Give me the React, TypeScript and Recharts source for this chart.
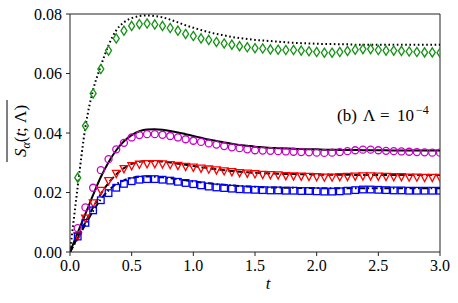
import React from "react";
import { LineChart, Line, XAxis, YAxis, ReferenceLine } from "recharts";

const tValues = [
  0, 0.0625, 0.125, 0.1875, 0.25, 0.3125, 0.375, 0.4375, 0.5, 0.5625, 0.625, 0.6875, 0.75, 0.8125, 0.875, 0.9375,
  1, 1.0625, 1.125, 1.1875, 1.25, 1.3125, 1.375, 1.4375, 1.5, 1.5625, 1.625, 1.6875, 1.75, 1.8125, 1.875, 1.9375,
  2, 2.0625, 2.125, 2.1875, 2.25, 2.3125, 2.375, 2.4375, 2.5, 2.5625, 2.625, 2.6875, 2.75, 2.8125, 2.875, 2.9375, 3,
];

const xTicks = [0, 0.5, 1, 1.5, 2, 2.5, 3];
const yTicks = [0, 0.02, 0.04, 0.06, 0.08];

// black curves
const dottedLine = [
  0, 0.022, 0.042, 0.0545, 0.0625, 0.0695, 0.0745, 0.0772, 0.0786, 0.0793, 0.0795, 0.0793, 0.0789, 0.0781, 0.0772,
  0.0762, 0.0754, 0.0746, 0.0739, 0.0733, 0.0728, 0.0723, 0.0719, 0.0716, 0.0713,
  0.0711, 0.0709, 0.0707, 0.0705, 0.0703, 0.0702, 0.0701, 0.07, 0.0699, 0.0699, 0.0698, 0.0698,
  0.0697, 0.0697, 0.0697, 0.0697, 0.0697, 0.0697, 0.0697, 0.0697, 0.0697, 0.0697, 0.0697, 0.0697,
];
const solidLine = [
  0, 0.0065, 0.0128, 0.0192, 0.0252, 0.0302, 0.0342, 0.0372, 0.0393, 0.0406, 0.0412, 0.0413, 0.0411, 0.0407, 0.0402,
  0.0396, 0.039, 0.0384, 0.0378, 0.0373, 0.0368, 0.0364, 0.036, 0.0357, 0.0354,
  0.0352, 0.035, 0.0349, 0.0348, 0.0347, 0.0346, 0.0345, 0.0345, 0.0344, 0.0344, 0.0343, 0.0343,
  0.0343, 0.0342, 0.0342, 0.0342, 0.0342, 0.0341, 0.0341, 0.0341, 0.0341, 0.0341, 0.0341, 0.0341,
];
const dashedLine = [
  0, 0.005, 0.01, 0.015, 0.0195, 0.0232, 0.0261, 0.0282, 0.0296, 0.0303, 0.0306, 0.0306, 0.0304, 0.0301, 0.0297,
  0.0293, 0.0289, 0.0285, 0.0281, 0.0278, 0.0275, 0.0272, 0.027, 0.0268, 0.0266,
  0.0265, 0.0264, 0.0263, 0.0262, 0.0262, 0.0261, 0.0261, 0.026, 0.026, 0.026, 0.026, 0.026,
  0.0259, 0.0259, 0.0259, 0.0259, 0.0259, 0.0259, 0.0259, 0.0259, 0.0259, 0.0259, 0.0259, 0.0259,
];
const dashDotLine = [
  0, 0.0046, 0.0093, 0.0138, 0.0177, 0.0207, 0.0228, 0.0241, 0.0249, 0.0253, 0.0254, 0.0253, 0.0251, 0.0248, 0.0245,
  0.0241, 0.0237, 0.0234, 0.0231, 0.0228, 0.0226, 0.0224, 0.0222, 0.022, 0.0219,
  0.0218, 0.0217, 0.0217, 0.0216, 0.0216, 0.0215, 0.0215, 0.0215,
  0.0214, 0.0214, 0.0214, 0.0214, 0.0214, 0.0214, 0.0214, 0.0214, 0.0214, 0.0214, 0.0214, 0.0214, 0.0214, 0.0214, 0.0214, 0.0214,
];

// markers (no value at t = 0)
const greenDiamonds = [
  null, 0.025, 0.0424, 0.0533, 0.0615, 0.0677, 0.0718, 0.0744, 0.076, 0.0766, 0.0768, 0.0765, 0.076, 0.0753, 0.0744,
  0.0733, 0.0726, 0.0718, 0.0713, 0.0706, 0.0701, 0.0697, 0.0692, 0.0688, 0.0685,
  0.0684, 0.0681, 0.068, 0.0679, 0.0679, 0.0677, 0.0675, 0.0672, 0.067, 0.067, 0.0672, 0.0676,
  0.068, 0.0682, 0.0682, 0.0679, 0.0677, 0.0677, 0.0676, 0.0674, 0.0672, 0.0671, 0.0671, 0.067,
];
const magentaCircles = [
  null, 0.008, 0.015, 0.0216, 0.0275, 0.0312, 0.0345, 0.0367, 0.0385, 0.0393, 0.0396, 0.0396, 0.0394, 0.039, 0.0385,
  0.0379, 0.0374, 0.037, 0.0365, 0.0361, 0.0356, 0.0352, 0.0349, 0.0345, 0.0342,
  0.0341, 0.034, 0.0339, 0.0338, 0.0337, 0.0336, 0.0335, 0.0334, 0.0333, 0.0334, 0.0336, 0.0339,
  0.0342, 0.0344, 0.0344, 0.0342, 0.034, 0.0339, 0.0338, 0.0337, 0.0336, 0.0335, 0.0334, 0.0334,
];
const redTriangles = [
  null, 0.0052, 0.0112, 0.0163, 0.0205, 0.0238, 0.0262, 0.0278, 0.0288, 0.0293, 0.0295, 0.0295, 0.0294, 0.0292, 0.0289,
  0.0286, 0.0283, 0.028, 0.0277, 0.0274, 0.0271, 0.0268, 0.0265, 0.0263, 0.0261,
  0.0259, 0.0258, 0.0257, 0.0255, 0.0254, 0.0253, 0.0252, 0.0251, 0.025, 0.025, 0.0251, 0.0252,
  0.0253, 0.0254, 0.0254, 0.0253, 0.0252, 0.0251, 0.0251, 0.025, 0.025, 0.0249, 0.0249, 0.0249,
];
const blueSquares = [
  null, 0.0052, 0.0098, 0.014, 0.0174, 0.0198, 0.0216, 0.0229, 0.0238, 0.0243, 0.0245, 0.0245, 0.0243, 0.024, 0.0236,
  0.0232, 0.0228, 0.0224, 0.022, 0.0217, 0.0215, 0.0213, 0.0211, 0.021, 0.0209,
  0.0208, 0.0207, 0.0207, 0.0206, 0.0206, 0.0205, 0.0205, 0.0204, 0.0203, 0.0203, 0.0204, 0.0206,
  0.0208, 0.021, 0.021, 0.0209, 0.0208, 0.0207, 0.0207, 0.0206, 0.0206, 0.0206, 0.0206, 0.0206,
];

const rows = tValues.map((t, i) => ({
  t,
  dotted: dottedLine[i],
  solid: solidLine[i],
  dashed: dashedLine[i],
  dashDot: dashDotLine[i],
  diamonds: greenDiamonds[i],
  circles: magentaCircles[i],
  triangles: redTriangles[i],
  squares: blueSquares[i],
}));

const FONT = "Liberation Serif";

type DotProps = { cx?: number; cy?: number; index?: number; value?: any };

const diamond = (p: DotProps) => {
  if (p.cx == null || p.cy == null || p.value == null) return <g key={p.index} />;
  const { cx, cy } = p;
  return (
    <path
      key={p.index}
      d={`M${cx},${cy - 4.6}L${cx + 3},${cy}L${cx},${cy + 4.6}L${cx - 3},${cy}Z`}
      fill="none"
      stroke="#139313"
      strokeWidth={1.3}
    />
  );
};

const circle = (p: DotProps) => {
  if (p.cx == null || p.cy == null || p.value == null) return <g key={p.index} />;
  return <circle key={p.index} cx={p.cx} cy={p.cy} r={3.5} fill="none" stroke="#c800c8" strokeWidth={1.3} />;
};

const triangle = (p: DotProps) => {
  if (p.cx == null || p.cy == null || p.value == null) return <g key={p.index} />;
  const { cx, cy } = p;
  return (
    <path
      key={p.index}
      d={`M${cx - 3.8},${cy - 3.6}L${cx + 3.8},${cy - 3.6}L${cx},${cy + 3.6}Z`}
      fill="none"
      stroke="#ff0000"
      strokeWidth={1.3}
    />
  );
};

const square = (p: DotProps) => {
  if (p.cx == null || p.cy == null || p.value == null) return <g key={p.index} />;
  return (
    <rect key={p.index} x={p.cx - 3.3} y={p.cy - 3.3} width={6.6} height={6.6} fill="none" stroke="#0000ff" strokeWidth={1.3} />
  );
};

const textStyle = { fontFamily: FONT };

const YTitle = () => (
  <g transform="translate(26,131) rotate(-90)">
    <text textAnchor="middle" style={textStyle} fontSize={17} fill="#000">
      <tspan fontStyle="italic">S</tspan>
      <tspan fontStyle="italic" fontSize={12} dy={4}>α</tspan>
      <tspan dy={-4}>(</tspan>
      <tspan fontStyle="italic">t</tspan>
      <tspan>; Λ)</tspan>
    </text>
    <line x1={-31} x2={31} y1={-19} y2={-19} stroke="#000" strokeWidth={1} />
  </g>
);

const XTitle = () => (
  <g>
    <text x={268} y={289} textAnchor="middle" style={textStyle} fontSize={17} fontStyle="italic" fill="#000">
      t
    </text>
    <text y={121} style={textStyle} fontSize={17} fill="#000">
      <tspan x={337}>(b)</tspan>
      <tspan x={363}>Λ</tspan>
      <tspan x={380}>=</tspan>
      <tspan x={397}>10</tspan>
      <tspan x={416} dy={-7} fontSize={12}>−4</tspan>
    </text>
  </g>
);

const tickStyle = { fontFamily: FONT, fontSize: 16, fill: "#000", style: textStyle };
const axisColor = "#222";

export default function App() {
  return (
    <div style={{ position: "absolute", left: 0, top: 0, background: "#fff", fontFamily: FONT }}>
      <LineChart
        width={458}
        height={303}
        data={rows}
        margin={{ top: 14, right: 18, bottom: 0, left: 0 }}
        style={{ fontFamily: FONT }}
      >
        <XAxis
          dataKey="t"
          type="number"
          domain={[0, 3]}
          ticks={xTicks}
          allowDataOverflow
          tickFormatter={(v: number) => v.toFixed(1)}
          tick={tickStyle}
          tickSize={4}
          tickMargin={4}
          height={51}
          stroke={axisColor}
          label={<XTitle />}
        />
        <YAxis
          type="number"
          domain={[0, 0.08]}
          ticks={yTicks}
          allowDataOverflow
          tickFormatter={(v: number) => v.toFixed(2)}
          tick={tickStyle}
          tickSize={4}
          tickMargin={4}
          width={70}
          stroke={axisColor}
          label={<YTitle />}
        />
        <ReferenceLine y={0.08} stroke={axisColor} strokeWidth={1} />
        <ReferenceLine x={3} stroke={axisColor} strokeWidth={1} />

        <Line dataKey="diamonds" stroke="none" dot={diamond} activeDot={false} isAnimationActive={false} />
        <Line dataKey="circles" stroke="none" dot={circle} activeDot={false} isAnimationActive={false} />
        <Line dataKey="triangles" stroke="none" dot={triangle} activeDot={false} isAnimationActive={false} />
        <Line dataKey="squares" stroke="none" dot={square} activeDot={false} isAnimationActive={false} />

        <Line
          dataKey="dotted"
          type="monotone"
          stroke="#000"
          strokeWidth={2}
          strokeDasharray="1.6 2.6"
          dot={false}
          activeDot={false}
          isAnimationActive={false}
        />
        <Line dataKey="solid" type="monotone" stroke="#000" strokeWidth={2} dot={false} activeDot={false} isAnimationActive={false} />
        <Line
          dataKey="dashed"
          type="monotone"
          stroke="#000"
          strokeWidth={2}
          strokeDasharray="6 3"
          dot={false}
          activeDot={false}
          isAnimationActive={false}
        />
        <Line
          dataKey="dashDot"
          type="monotone"
          stroke="#000"
          strokeWidth={2}
          strokeDasharray="6 2.5 1.6 2.5"
          dot={false}
          activeDot={false}
          isAnimationActive={false}
        />
      </LineChart>
    </div>
  );
}
